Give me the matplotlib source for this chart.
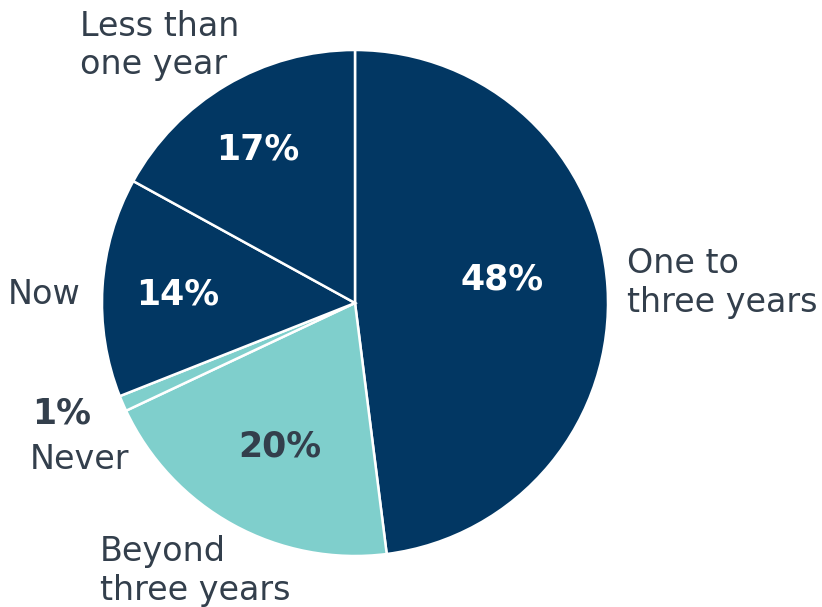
import matplotlib
matplotlib.use("Agg")
import matplotlib.pyplot as plt

categories = ["One to\nthree years", "Beyond\nthree years", "Never", "Now", "Less than\none year"]
values = [48, 20, 1, 14, 17]
colors = ["#023763", "#7fcfcc", "#7fcfcc", "#023763", "#023763"]
pct_colors = ["white", "#333f4c", "#333f4c", "white", "white"]

# label positions in data units (radius = 1)
pct_pos = [(0.581, 0.091), (-0.296, -0.569), (-1.158, -0.435), (-0.70, 0.032), (-0.383, 0.605)]
cat_pos = [(1.075, 0.080), (-1.008, -1.058), (-1.285, -0.62), (-1.372, 0.032), (-1.087, 1.018)]

fig = plt.figure(figsize=(8.22, 6.07), dpi=100)
cx, cy, r = 355, 304, 253
W, H = 822, 607
ax = fig.add_axes([(cx - r) / W, (cy - r) / H, 2 * r / W, 2 * r / H])
ax.pie(values, colors=colors, startangle=90, counterclock=False, radius=1,
       wedgeprops=dict(edgecolor="white", linewidth=1.8))
ax.set_xlim(-1, 1)
ax.set_ylim(-1, 1)
ax.set_aspect("equal")
ax.axis("off")

for v, (x, y), c in zip(values, pct_pos, pct_colors):
    ax.text(x, y, f"{v}%", ha="center", va="center", fontsize=25,
            fontweight="bold", color=c, family="DejaVu Sans", clip_on=False)

for name, (x, y) in zip(categories, cat_pos):
    ax.text(x, y, name, ha="left", va="center", fontsize=24, color="#333f4c",
            family="DejaVu Sans", linespacing=1.22, clip_on=False)

fig.savefig("out.png", dpi=100)
